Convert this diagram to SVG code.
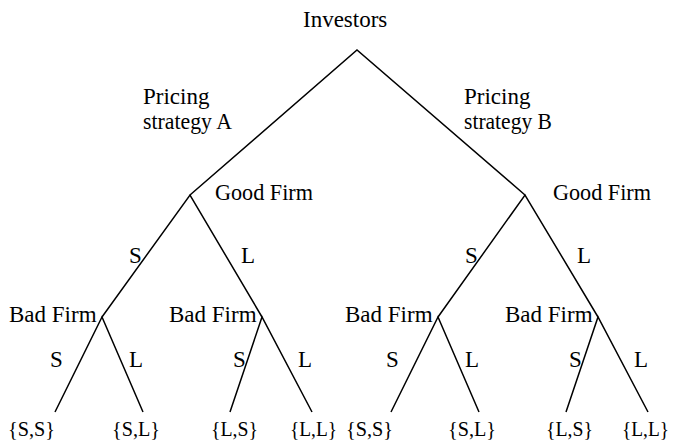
<svg xmlns="http://www.w3.org/2000/svg" width="676" height="445" viewBox="0 0 676 445">
<style>
text{font-family:"Liberation Serif","Times New Roman",serif;font-size:23px;fill:#000}
.lf{font-size:21.5px}
.e{stroke:#000;stroke-width:1.5;fill:none}
</style>
<rect width="676" height="445" fill="#fff"/>
<g id="connectors">
<path class="e" d="M190,195 L357,50 L525,195"/>
<path class="e" d="M102,317 L190,195 L262,317"/>
<path class="e" d="M438,317 L525,195 L598,317"/>
<path class="e" d="M55,412 L102,317 L143,412"/>
<path class="e" d="M230,412 L262,317 L312,412"/>
<path class="e" d="M391,412 L438,317 L479,412"/>
<path class="e" d="M566,412 L598,317 L648,412"/>
</g>
<g id="edge-labels">
<text x="143" y="104">Pricing</text><text x="143" y="129" textLength="89" lengthAdjust="spacingAndGlyphs">strategy A</text>
<text x="464" y="104">Pricing</text><text x="464" y="129" textLength="88" lengthAdjust="spacingAndGlyphs">strategy B</text>
<text x="129" y="263">S</text><text x="241" y="263">L</text>
<text x="465" y="263">S</text><text x="577" y="263">L</text>
<text x="50" y="367">S</text><text x="129" y="367">L</text>
<text x="233" y="367">S</text><text x="298" y="367">L</text>
<text x="386" y="367">S</text><text x="465" y="367">L</text>
<text x="569" y="367">S</text><text x="634" y="367">L</text>
</g>
<g id="investors"><text x="303" y="27">Investors</text></g>
<g id="good-firm-a"><text x="215" y="200" textLength="98" lengthAdjust="spacingAndGlyphs">Good Firm</text></g>
<g id="good-firm-b"><text x="553" y="200" textLength="98" lengthAdjust="spacingAndGlyphs">Good Firm</text></g>
<g id="bad-firm-1"><text x="9" y="322">Bad Firm</text></g>
<g id="bad-firm-2"><text x="169" y="322">Bad Firm</text></g>
<g id="bad-firm-3"><text x="345" y="322">Bad Firm</text></g>
<g id="bad-firm-4"><text x="505" y="322">Bad Firm</text></g>
<g id="leaf-1"><text class="lf" x="8" y="436" textLength="47" lengthAdjust="spacingAndGlyphs">{S,S}</text></g>
<g id="leaf-2"><text class="lf" x="112" y="436" textLength="48" lengthAdjust="spacingAndGlyphs">{S,L}</text></g>
<g id="leaf-3"><text class="lf" x="211" y="436" textLength="47" lengthAdjust="spacingAndGlyphs">{L,S}</text></g>
<g id="leaf-4"><text class="lf" x="290" y="436" textLength="47" lengthAdjust="spacingAndGlyphs">{L,L}</text></g>
<g id="leaf-5"><text class="lf" x="346" y="436" textLength="47" lengthAdjust="spacingAndGlyphs">{S,S}</text></g>
<g id="leaf-6"><text class="lf" x="448" y="436" textLength="48" lengthAdjust="spacingAndGlyphs">{S,L}</text></g>
<g id="leaf-7"><text class="lf" x="546" y="436" textLength="47" lengthAdjust="spacingAndGlyphs">{L,S}</text></g>
<g id="leaf-8"><text class="lf" x="622" y="436" textLength="47" lengthAdjust="spacingAndGlyphs">{L,L}</text></g>
</svg>
